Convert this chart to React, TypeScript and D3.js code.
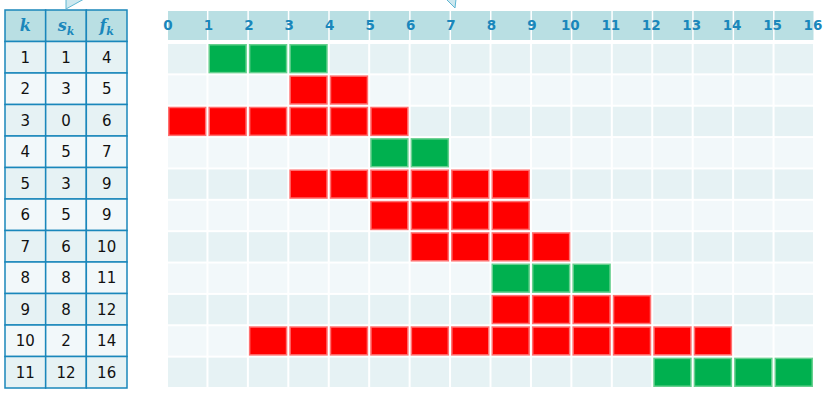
import React, { useRef, useEffect } from "react";
import * as d3 from "d3";

// activities: index, start, finish
const ks = [1, 2, 3, 4, 5, 6, 7, 8, 9, 10, 11];
const starts = [1, 3, 0, 5, 3, 5, 6, 8, 8, 2, 12];
const finishes = [4, 5, 6, 7, 9, 9, 10, 11, 12, 14, 16];
// activities picked by the greedy choice
const selected = [1, 4, 8, 11];
const timeTicks = [0, 1, 2, 3, 4, 5, 6, 7, 8, 9, 10, 11, 12, 13, 14, 15, 16];

const width = 831;
const height = 400;

const blue = "#1a87bb";
const headFill = "#b9dfe3";
const rowOdd = "#e6f2f4";
const rowEven = "#f2f8fa";

const App = () => {
    const svgRef = useRef(null);

    useEffect(() => {
        const svg = d3.select(svgRef.current);
        svg.selectAll("*").remove();

        const rows = ks.map((k, i) => ({ k: k, s: starts[i], f: finishes[i], green: selected.includes(k) }));

        // ---- table on the left ----
        const tx = d3.scaleBand().domain(["k", "s", "f"]).range([5, 127]);
        const ty = d3.scaleBand().domain(["h", ...ks.map(String)]).range([10, 388]);

        const table = svg.append("g");
        table.selectAll("rect.head")
            .data(["k", "s", "f"])
            .join("rect")
            .attr("x", d => tx(d))
            .attr("y", ty("h"))
            .attr("width", tx.bandwidth())
            .attr("height", ty.bandwidth())
            .attr("fill", headFill)
            .attr("stroke", blue)
            .attr("stroke-width", 1.5);

        const heads = table.selectAll("text.head")
            .data(["k", "s", "f"])
            .join("text")
            .attr("x", d => tx(d) + tx.bandwidth() / 2)
            .attr("y", ty("h") + ty.bandwidth() / 2 + 5)
            .attr("text-anchor", "middle")
            .attr("font-family", "DejaVu Serif")
            .attr("font-style", "italic")
            .attr("font-weight", "bold")
            .attr("font-size", 16)
            .attr("fill", blue);
        heads.append("tspan").text(d => d);
        heads.filter(d => d !== "k").append("tspan")
            .attr("dy", 4)
            .attr("font-size", 11)
            .text("k");

        const trow = table.selectAll("g.trow")
            .data(rows)
            .join("g");
        trow.selectAll("rect")
            .data(r => [["k", r.k], ["s", r.s], ["f", r.f]].map(c => ({ col: c[0], v: c[1], k: r.k })))
            .join("rect")
            .attr("x", d => tx(d.col))
            .attr("y", d => ty(String(d.k)))
            .attr("width", tx.bandwidth())
            .attr("height", ty.bandwidth())
            .attr("fill", d => (d.k % 2 === 1 ? rowOdd : rowEven))
            .attr("stroke", blue)
            .attr("stroke-width", 1.5);
        trow.selectAll("text")
            .data(r => [["k", r.k], ["s", r.s], ["f", r.f]].map(c => ({ col: c[0], v: c[1], k: r.k })))
            .join("text")
            .attr("x", d => tx(d.col) + tx.bandwidth() / 2)
            .attr("y", d => ty(String(d.k)) + ty.bandwidth() / 2 + 5.5)
            .attr("text-anchor", "middle")
            .attr("font-family", "DejaVu Sans")
            .attr("font-size", 15)
            .attr("fill", "#111")
            .text(d => d.v);

        // ---- time grid ----
        const x = d3.scaleLinear().domain([0, 16]).range([168, 815]);
        const y = d3.scaleBand().domain(ks.map(String)).range([43, 388]);
        const units = d3.range(16);

        // header band
        svg.append("g")
            .selectAll("rect")
            .data(units)
            .join("rect")
            .attr("x", d => x(d))
            .attr("y", 11)
            .attr("width", x(1) - x(0) - 1.5)
            .attr("height", 29)
            .attr("fill", headFill);

        svg.append("g")
            .selectAll("text")
            .data(timeTicks)
            .join("text")
            .attr("x", d => x(d) - (d >= 10 ? 2 : 0))
            .attr("y", 30)
            .attr("text-anchor", "middle")
            .attr("font-family", "DejaVu Sans")
            .attr("font-weight", "bold")
            .attr("font-size", 13.5)
            .attr("fill", blue)
            .text(d => d);

        // cells, one per activity and time unit
        const cells = [];
        rows.forEach(r => {
            units.forEach(u => {
                const on = u >= r.s && u < r.f;
                cells.push({ k: r.k, u: u, on: on, green: r.green });
            });
        });

        const cw = x(1) - x(0);
        svg.append("g")
            .selectAll("rect")
            .data(cells)
            .join("rect")
            .attr("x", d => x(d.u) + (d.on ? 0.75 : 0))
            .attr("y", d => y(String(d.k)) + 1 + (d.on ? 0.75 : 0))
            .attr("width", d => cw - 2 - (d.on ? 1.5 : 0))
            .attr("height", d => y.bandwidth() - 2 - (d.on ? 1.5 : 0))
            .attr("fill", d => (d.on ? (d.green ? "#00b04f" : "#ff0000") : (d.k % 2 === 1 ? rowOdd : rowEven)))
            .attr("stroke", d => (d.on ? (d.green ? "#66d08f" : "#ff7070") : "none"))
            .attr("stroke-width", 1.5);

        // callout tails at the top
        svg.append("path")
            .attr("d", "M66,-1 L84,-1 L66,9 Z")
            .attr("fill", "#cde8ef")
            .attr("stroke", "#5fb6d2")
            .attr("stroke-width", 1);
        svg.append("path")
            .attr("d", "M446,-1 L456,-1 L455,8 Z")
            .attr("fill", "#cde8ef")
            .attr("stroke", "#5fb6d2")
            .attr("stroke-width", 1);
    });

    return (
        <svg ref={svgRef} width={width} height={height}
            style={{ position: "absolute", left: 0, top: 0, background: "#fff" }} />
    );
};

export default App;
